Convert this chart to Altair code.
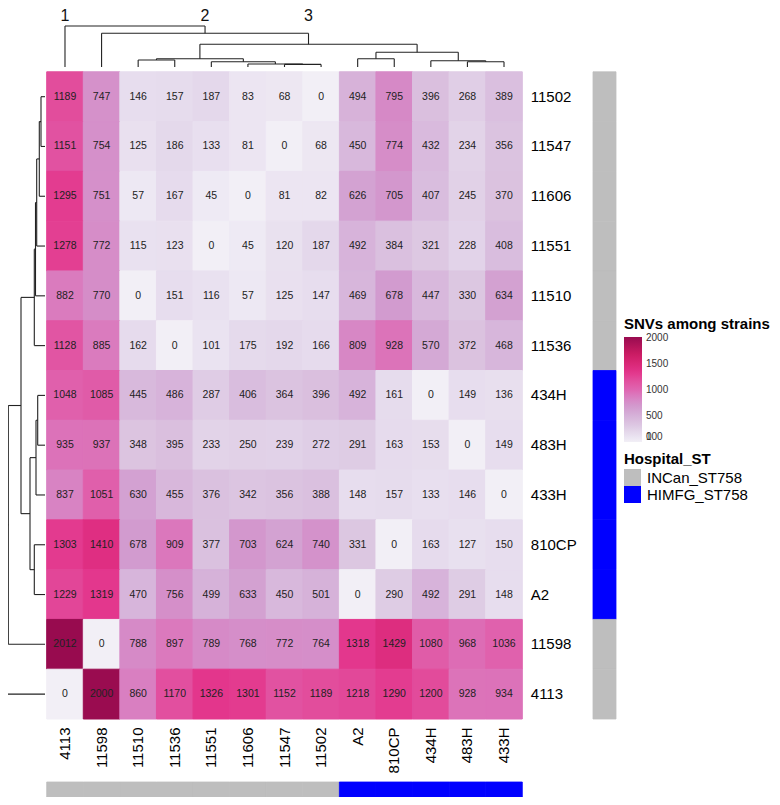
import altair as alt
import pandas as pd

# ---------------- data ----------------
row_names = ['11502', '11547', '11606', '11551', '11510', '11536', '434H', '483H',
             '433H', '810CP', 'A2', '11598', '4113']
col_names = ['4113', '11598', '11510', '11536', '11551', '11606', '11547', '11502',
             'A2', '810CP', '434H', '483H', '433H']

snv_11502 = [1189, 747, 146, 157, 187, 83, 68, 0, 494, 795, 396, 268, 389]
snv_11547 = [1151, 754, 125, 186, 133, 81, 0, 68, 450, 774, 432, 234, 356]
snv_11606 = [1295, 751, 57, 167, 45, 0, 81, 82, 626, 705, 407, 245, 370]
snv_11551 = [1278, 772, 115, 123, 0, 45, 120, 187, 492, 384, 321, 228, 408]
snv_11510 = [882, 770, 0, 151, 116, 57, 125, 147, 469, 678, 447, 330, 634]
snv_11536 = [1128, 885, 162, 0, 101, 175, 192, 166, 809, 928, 570, 372, 468]
snv_434H = [1048, 1085, 445, 486, 287, 406, 364, 396, 492, 161, 0, 149, 136]
snv_483H = [935, 937, 348, 395, 233, 250, 239, 272, 291, 163, 153, 0, 149]
snv_433H = [837, 1051, 630, 455, 376, 342, 356, 388, 148, 157, 133, 146, 0]
snv_810CP = [1303, 1410, 678, 909, 377, 703, 624, 740, 331, 0, 163, 127, 150]
snv_A2 = [1229, 1319, 470, 756, 499, 633, 450, 501, 0, 290, 492, 291, 148]
snv_11598 = [2012, 0, 788, 897, 789, 768, 772, 764, 1318, 1429, 1080, 968, 1036]
snv_4113 = [0, 2000, 860, 1170, 1326, 1301, 1152, 1189, 1218, 1290, 1200, 928, 934]

hospital_levels = ['INCan_ST758', 'HIMFG_ST758']
row_hospital = ['INCan_ST758'] * 6 + ['HIMFG_ST758'] * 5 + ['INCan_ST758'] * 2
col_hospital = ['INCan_ST758'] * 8 + ['HIMFG_ST758'] * 5

# column dendrogram merges (child a, child b, merge height)
col_merge_a = ['11547', '11606', '11551', '11510', 'c4', 'A2', '483H', '434H', 'c6', 'c5', '11598', '4113']
col_merge_b = ['11502', 'c1', 'c2', '11536', 'c3', '810CP', '433H', 'c7', 'c8', 'c9', 'c10', 'c11']
col_merge_h = [2.6, 3.0, 5.3, 7.0, 8.3, 8.3, 5.3, 6.3, 14.7, 22.7, 33.7, 41.0]

# row dendrogram merges
row_merge_a = ['11502', 'r1', 'r2', 'r3', 'r4', '434H', 'r6', '810CP', 'r7', 'r5', 'r10', 'r11']
row_merge_b = ['11547', '11606', '11551', '11510', '11536', '483H', '433H', 'A2', 'r8', 'r9', '11598', '4113']
row_merge_h = [4.0, 5.7, 8.3, 9.5, 10.7, 7.3, 9.0, 10.7, 15.0, 24.0, 36.7, 42.3]

cluster_labels = ['1', '2', '3']
cluster_nodes = ['4113', 'c11', 'c10']

legend_values = [0, 100, 500, 1000, 1500, 2000]

# ---------------- styles / layout ----------------
FONT = 'Liberation Sans'
W, H = 764, 789
HM_X0, HM_X1 = 38.7, 514.3
HM_Y0, HM_Y1 = 63.8, 711.0
TOP_BASE = 59.0
LEFT_BASE = 37.0
SNV_COLORS = ['#f2eff6', '#dcc6e1', '#d29ccf', '#df65b0', '#e3338a', '#cc1c63', '#980b4f']
HOSP_COLORS = ['#BEBEBE', '#0000FF']
LINE = '#222222'

matrix = [snv_11502, snv_11547, snv_11606, snv_11551, snv_11510, snv_11536, snv_434H,
          snv_483H, snv_433H, snv_810CP, snv_A2, snv_11598, snv_4113]
heat_df = pd.DataFrame([
    {'row': r, 'col': c, 'snv': v}
    for r, vals in zip(row_names, matrix) for c, v in zip(col_names, vals)
])
rann_df = pd.DataFrame({'row': row_names, 'hospital': row_hospital})
cann_df = pd.DataFrame({'col': col_names, 'hospital': col_hospital})


def dendro_segments(leaves, a_list, b_list, h_list, prefix):
    pos = {n: i + 0.5 for i, n in enumerate(leaves)}
    hgt = {n: 0.0 for n in leaves}
    segs = []
    for k, (a, b, h) in enumerate(zip(a_list, b_list, h_list)):
        node = f'{prefix}{k + 1}'
        pa, pb = pos[a], pos[b]
        segs.append({'p1': pa, 'p2': pa, 'h1': hgt[a], 'h2': h})
        segs.append({'p1': pb, 'p2': pb, 'h1': hgt[b], 'h2': h})
        segs.append({'p1': pa, 'p2': pb, 'h1': h, 'h2': h})
        pos[node] = (pa + pb) / 2
        hgt[node] = h
    return pd.DataFrame(segs), pos


top_df, top_pos = dendro_segments(col_names, col_merge_a, col_merge_b, col_merge_h, 'c')
left_df, _ = dendro_segments(row_names, row_merge_a, row_merge_b, row_merge_h, 'r')
clus_df = pd.DataFrame({'label': cluster_labels, 'pos': [top_pos[n] for n in cluster_nodes]})

xband = alt.Scale(domain=col_names, range=[HM_X0, HM_X1], paddingInner=0, paddingOuter=0)
yband = alt.Scale(domain=row_names, range=[HM_Y0, HM_Y1], paddingInner=0, paddingOuter=0)
xlin = alt.Scale(domain=[0, 13], range=[HM_X0, HM_X1], nice=False, zero=False)
ylin = alt.Scale(domain=[0, 13], range=[HM_Y0, HM_Y1], nice=False, zero=False)
top_h = alt.Scale(domain=[0, 50], range=[TOP_BASE, TOP_BASE - 50], nice=False, zero=False)
left_h = alt.Scale(domain=[0, 50], range=[LEFT_BASE, LEFT_BASE - 50], nice=False, zero=False)
hosp_scale = alt.Scale(domain=hospital_levels, range=HOSP_COLORS)
snv_scale = alt.Scale(domain=[0, 2012], range=SNV_COLORS)

hosp_legend = alt.Legend(
    orient='none', legendX=616, legendY=444, direction='vertical',
    title='Hospital_ST', titleFont=FONT, titleFontSize=15, titleFontWeight='bold',
    titleColor='black', titlePadding=2, symbolType='square', symbolSize=289,
    symbolStrokeWidth=0, symbolOpacity=1, labelFont=FONT, labelFontSize=15,
    labelColor='black', labelOffset=6, rowPadding=0, padding=0,
)

heat = alt.Chart(heat_df).mark_rect(strokeWidth=1).encode(
    x=alt.X('col:N', scale=xband, axis=alt.Axis(
        orient='bottom', offset=HM_Y1 - H, labelAngle=270, labelPadding=8, ticks=False,
        tickSize=0, domain=False, title=None, labelFont=FONT, labelFontSize=15,
        labelColor='black')),
    y=alt.Y('row:N', scale=yband, axis=alt.Axis(
        orient='right', offset=HM_X1 - W, labelPadding=8, ticks=False, tickSize=0,
        domain=False, title=None, labelFont=FONT, labelFontSize=15, labelColor='black')),
    color=alt.Color('snv:Q', scale=snv_scale,
                    legend=alt.Legend(
                        orient='none', legendX=616, legendY=309, direction='vertical',
                        title='SNVs among strains', titleFont=FONT, titleFontSize=15,
                        titleFontWeight='bold', titleColor='black', titlePadding=5,
                        gradientLength=105, gradientThickness=18, gradientStrokeWidth=0,
                        values=legend_values, format='d', labelFont=FONT, labelFontSize=10,
                        labelColor='#333333', labelOffset=4, labelOverlap=False,
                        padding=0)),
    stroke=alt.Stroke('snv:Q', scale=snv_scale, legend=None),
)

nums = alt.Chart(heat_df).mark_text(font=FONT, fontSize=10.5, color='#222222').encode(
    x=alt.X('col:N', scale=xband, axis=None),
    y=alt.Y('row:N', scale=yband, axis=None),
    text=alt.Text('snv:Q', format='d'),
)

rann = alt.Chart(rann_df).mark_rect(strokeWidth=0.8).encode(
    y=alt.Y('row:N', scale=yband, axis=None),
    x=alt.value(585), x2=alt.value(608),
    fill=alt.Fill('hospital:N', scale=hosp_scale, legend=hosp_legend),
    stroke=alt.Stroke('hospital:N', scale=hosp_scale, legend=None),
)

cann = alt.Chart(cann_df).mark_rect(strokeWidth=0.8).encode(
    x=alt.X('col:N', scale=xband, axis=None),
    y=alt.value(774), y2=alt.value(789),
    fill=alt.Fill('hospital:N', scale=hosp_scale, legend=hosp_legend),
    stroke=alt.Stroke('hospital:N', scale=hosp_scale, legend=None),
)

top = alt.Chart(top_df).mark_rule(color=LINE, strokeWidth=1.1).encode(
    x=alt.X('p1:Q', scale=xlin, axis=None), x2='p2:Q',
    y=alt.Y('h1:Q', scale=top_h, axis=None), y2='h2:Q',
)

left = alt.Chart(left_df).mark_rule(color=LINE, strokeWidth=1.1).encode(
    y=alt.Y('p1:Q', scale=ylin, axis=None), y2='p2:Q',
    x=alt.X('h1:Q', scale=left_h, axis=None), x2='h2:Q',
)

clus = alt.Chart(clus_df).mark_text(font=FONT, fontSize=16, color='#111111', baseline='top').encode(
    x=alt.X('pos:Q', scale=xlin, axis=None),
    y=alt.value(0),
    text='label:N',
)

chart = alt.layer(heat, nums, rann, cann, top, left, clus).resolve_scale(
    x='independent', y='independent'
).properties(
    width=W, height=H, autosize=alt.AutoSizeParams(type='none'), padding=0
).configure_view(stroke=None)

chart.save('out.html', embed_options={'renderer': 'svg', 'actions': False})
